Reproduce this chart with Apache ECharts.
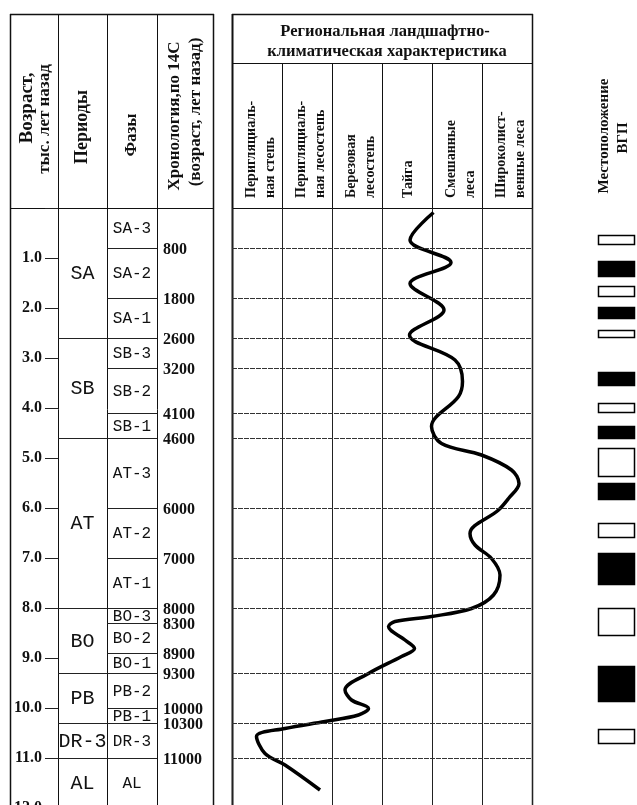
<!DOCTYPE html>
<html><head><meta charset="utf-8">
<script src="https://cdn.jsdelivr.net/npm/echarts@6/dist/echarts.min.js"></script>
<style>html,body{margin:0;padding:0;background:#fff}#c{width:637px;height:805px}</style>
</head><body><div id="c"></div>
<script>
// ---- data ----
const periodNames = ['SA','SB','AT','BO','PB','DR-3','AL'];
const periodStart = [0, 2.6, 4.6, 8.0, 9.3, 10.3, 11.0];
const periodEnd   = [2.6, 4.6, 8.0, 9.3, 10.3, 11.0, 12.0];
const phaseNames = ['SA-3','SA-2','SA-1','SB-3','SB-2','SB-1','AT-3','AT-2','AT-1','BO-3','BO-2','BO-1','PB-2','PB-1','DR-3','AL'];
const phaseStart = [0, 0.8, 1.8, 2.6, 3.2, 4.1, 4.6, 6.0, 7.0, 8.0, 8.3, 8.9, 9.3, 10.0, 10.3, 11.0];
const phaseEnd   = [0.8, 1.8, 2.6, 3.2, 4.1, 4.6, 6.0, 7.0, 8.0, 8.3, 8.9, 9.3, 10.0, 10.3, 11.0, 12.0];
const chronology = [800, 1800, 2600, 3200, 4100, 4600, 6000, 7000, 8000, 8300, 8900, 9300, 10000, 10300, 11000];
const panelLines = [0.8, 1.8, 2.6, 3.2, 4.1, 4.6, 6.0, 7.0, 8.0, 9.3, 10.3, 11.0];
const zoneNames = [['Перигляциаль-','ная степь'],['Перигляциаль-','ная лесостепь'],['Березовая','лесостепь'],['Тайга'],['Смешанные','леса'],['Широколист-','венные леса']];
// curve: zone position (0..6, column units) vs age (thousand years)
const curveZone = [4.03,3.56,4.38,3.56,4.24,3.55,4.46,4.61,4.53,3.99,4.19,4.99,5.59,5.74,5.53,5.33,4.76,4.86,5.19,5.36,5.23,4.79,3.99,3.26,3.13,3.46,3.65,3.39,2.73,2.26,2.39,2.73,2.53,1.86,1.06,0.49,0.66,1.06,1.76];
const curveAge  = [0.09,0.64,1.09,1.51,2.04,2.54,3.04,3.47,3.77,4.37,4.71,4.94,5.24,5.51,5.81,6.04,6.51,6.74,7.01,7.34,7.74,8.01,8.17,8.27,8.37,8.64,8.81,8.97,9.31,9.64,9.84,10.01,10.14,10.27,10.41,10.57,10.91,11.14,11.64];
// ВГП bars
const vgpStart = [0.54,1.06,1.55,1.97,2.43,3.27,3.89,4.36,4.79,5.49,6.29,6.89,7.99,9.15,10.41];
const vgpEnd   = [0.71,1.35,1.75,2.19,2.56,3.53,4.06,4.59,5.35,5.81,6.57,7.51,8.53,9.85,10.68];
const vgpDark  = [0,1,0,1,0,1,0,1,0,1,0,1,0,1,0];

// ---- layout ----
const TOP = 208, H = 600;
const SERIF = '"Liberation Serif", "Times New Roman", serif';
const MONO = '"Liberation Mono", "Courier New", monospace';
const INK = '#111';

function vline(x, y1, y2, w) { return {type:'line', silent:true, shape:{x1:x, y1:y1, x2:x, y2:y2}, style:{stroke:INK, lineWidth:w||1}}; }
function hline(y, x1, x2, w) { return {type:'line', silent:true, shape:{x1:x1, y1:y, x2:x2, y2:y}, style:{stroke:INK, lineWidth:w||1}}; }
function vtext(t, x, y, align, font) {
  return {type:'text', silent:true, x:x, y:y, rotation:Math.PI/2,
    style:{text:t, x:0, y:0, font:font, fill:INK, textAlign:align, textVerticalAlign:'middle', align:align, verticalAlign:'middle'}};
}
function htext(t, x, y, font) {
  return {type:'text', silent:true, x:x, y:y,
    style:{text:t, x:0, y:0, font:font, fill:INK, textAlign:'center', textVerticalAlign:'middle', align:'center', verticalAlign:'middle'}};
}

const HF = 'bold 17px ' + SERIF;
const ZF = 'bold 14px ' + SERIF;
const graphics = [
  // left table frame
  vline(10.5, 14, 805, 1.5), vline(58.5, 14, 805), vline(107.5, 14, 805), vline(157.5, 14, 805), vline(213.5, 14, 805, 1.5),
  hline(14.5, 10, 214, 1.5), hline(208.5, 10, 214),
  // middle panel frame
  vline(232.5, 14, 805, 2), vline(532.5, 14, 805, 1.5),
  hline(14.5, 232, 533, 1.5), hline(63.5, 232, 533), hline(208.5, 232, 533),
  // left headers
  vtext('Возраст,', 27, 108, 'center', 'bold 19px ' + SERIF),
  vtext('тыс. лет назад', 45, 119, 'center', HF),
  vtext('Периоды', 82, 127, 'center', 'bold 18px ' + SERIF),
  vtext('Фазы', 132, 135, 'center', HF),
  vtext('Хронология,по 14С', 175, 116, 'center', HF),
  vtext('(возраст, лет назад)', 196, 112, 'center', HF),
  // middle header
  htext('Региональная ландшафтно-', 385, 32, 'bold 16.5px ' + SERIF),
  htext('климатическая характеристика', 387, 52, 'bold 16.5px ' + SERIF),
  // right header
  vtext('Местоположение', 604, 136, 'center', 'bold 15px ' + SERIF),
  vtext('ВГП', 623, 138, 'center', 'bold 15px ' + SERIF)
];
for (let k = 1; k < 6; k++) graphics.push(vline(232 + 50 * k + 0.5, 63, 208));
zoneNames.forEach(function (lines, i) {
  const cx = 232 + 50 * i + 26;
  if (lines.length === 1) graphics.push(vtext(lines[0], cx, 198, 'left', ZF));
  else {
    graphics.push(vtext(lines[0], cx - 7, 198, 'left', ZF));
    graphics.push(vtext(lines[1], cx + 12, 198, 'left', ZF));
  }
});

function grid(left, width) { return {left:left, top:TOP, width:width, height:H, containLabel:false, outerBoundsMode:'none'}; }
function hiddenX(i, max) { return {gridIndex:i, type:'value', min:0, max:max, show:false}; }
function hiddenY(i) { return {gridIndex:i, type:'value', min:0, max:12, inverse:true, show:false}; }

function cellSeries(names, starts, ends, axis, font) {
  return {
    type:'custom', xAxisIndex:axis, yAxisIndex:axis, silent:true,
    data: names.map(function (n, i) { return [0, starts[i], ends[i], i]; }),
    encode:{x:0, y:[1,2]},
    renderItem: function (params, api) {
      const cs = params.coordSys;
      const y0 = api.coord([0, api.value(1)])[1];
      const y1 = api.coord([0, api.value(2)])[1];
      const ch = [];
      if (api.value(2) < 12) {
        const yy = Math.round(y1) + 0.5;
        ch.push({type:'line', shape:{x1:cs.x, y1:yy, x2:cs.x + cs.width, y2:yy}, style:{stroke:'#222', lineWidth:1}});
      }
      ch.push({type:'text', style:{text:names[api.value(3)], x:cs.x + cs.width / 2, y:(y0 + y1) / 2 + 1, font:font, fill:INK,
        textAlign:'center', textVerticalAlign:'middle', align:'center', verticalAlign:'middle'}});
      return {type:'group', children:ch};
    }
  };
}

const option = {
  animation:false,
  backgroundColor:'#fff',
  grid:[grid(58, 49), grid(107, 50), grid(157, 56), grid(232, 300), grid(598, 36)],
  xAxis:[hiddenX(0,1), hiddenX(1,1), hiddenX(2,1),
    {gridIndex:3, type:'value', min:0, max:6, interval:1, axisLine:{show:false}, axisTick:{show:false}, axisLabel:{show:false},
     splitLine:{show:true, lineStyle:{color:'#222', width:1}}},
    hiddenX(4,1)],
  yAxis:[
    {gridIndex:0, type:'value', min:0, max:12, interval:1, inverse:true, position:'left',
     axisLine:{show:false}, splitLine:{show:false},
     axisTick:{show:true, length:13, lineStyle:{color:'#222', width:1}},
     axisLabel:{show:true, margin:16, color:INK, fontFamily:SERIF, fontWeight:'bold', fontSize:16,
       formatter:function (v) { return v === 0 ? '' : v.toFixed(1); }}},
    hiddenY(1), hiddenY(2), hiddenY(3), hiddenY(4)
  ],
  graphic:{elements:graphics},
  series:[
    cellSeries(periodNames, periodStart, periodEnd, 0, '20px ' + MONO),
    cellSeries(phaseNames, phaseStart, phaseEnd, 1, '16px ' + MONO),
    {
      type:'custom', xAxisIndex:2, yAxisIndex:2, silent:true,
      data: chronology.map(function (v) { return [0, v / 1000, v]; }),
      encode:{x:0, y:1},
      renderItem:function (params, api) {
        const cs = params.coordSys;
        const y = api.coord([0, api.value(1)])[1];
        return {type:'text', style:{text:String(api.value(2)), x:cs.x + 6, y:y + 2, font:'bold 16px ' + SERIF, fill:INK,
          textAlign:'left', textVerticalAlign:'middle', align:'left', verticalAlign:'middle'}};
      }
    },
    {
      type:'line', xAxisIndex:3, yAxisIndex:3, silent:true,
      data: curveZone.map(function (z, i) { return [z, curveAge[i]]; }),
      smooth:0.35, showSymbol:false, symbol:'none',
      lineStyle:{color:'#000', width:3.5},
      markLine:{silent:true, symbol:['none','none'], label:{show:false},
        lineStyle:{color:'#333', width:1, type:[5,1]},
        data: panelLines.map(function (a) { return {yAxis:a}; })}
    },
    {
      type:'custom', xAxisIndex:4, yAxisIndex:4, silent:true,
      data: vgpStart.map(function (s, i) { return [0, s, vgpEnd[i], vgpDark[i]]; }),
      encode:{x:0, y:[1,2]},
      renderItem:function (params, api) {
        const cs = params.coordSys;
        const y0 = api.coord([0, api.value(1)])[1];
        const y1 = api.coord([0, api.value(2)])[1];
        return {type:'rect', shape:{x:cs.x + 0.5, y:Math.round(y0) + 0.5, width:cs.width, height:Math.round(y1 - y0)},
          style:{fill: api.value(3) ? '#000' : '#fff', stroke:'#000', lineWidth:1.5}};
      }
    }
  ]
};
const chart = echarts.init(document.getElementById('c'), null, {renderer:'canvas'});
chart.setOption(option);
</script>
</body></html>
